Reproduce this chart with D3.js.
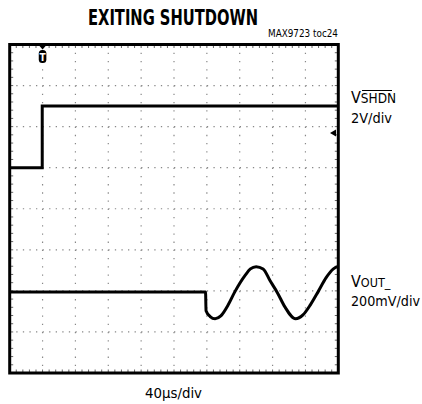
<!DOCTYPE html>
<html>
<head>
<meta charset="utf-8">
<script src="https://cdn.jsdelivr.net/npm/d3@7"></script>
<style>
  body { margin: 0; background: #fff; }
  text { font-family: "Liberation Sans Narrow", "DejaVu Sans Condensed", "Liberation Sans", sans-serif; }
</style>
</head>
<body>
<div id="chart"></div>
<script>
// time axis: 10 div x 40us
const timeTicks = [0, 40, 80, 120, 160, 200, 240, 280, 320, 360, 400];
const divTicks = [0, 1, 2, 3, 4, 5, 6, 7, 8];

// VSHDN trace (us, V) at 2V/div
const shdnT = [0, 39.6, 39.6, 400];
const shdnV = [0, 0, 3.0, 3.0];

// VOUT_ trace (us, mV) at 200mV/div
const voutT = [0, 238.4, 239, 244, 250, 257, 266, 274, 287, 293, 300, 308.5, 317, 326, 335, 348, 357, 366, 376, 385, 394, 400];
const voutV = [0, 0, -92, -120, -131, -117, -63, 0, 83, 112, 123, 112, 54, -5, -73, -131, -112, -63, 5, 68, 112, 124];

const W = 422, H = 404;
const svg = d3.select("#chart")
    .append("svg")
    .attr("width", W)
    .attr("height", H);

const pLeft = 9.7, pRight = 338.3, pTop = 44.5, pBottom = 373;

const x = d3.scaleLinear().domain([0, 400]).range([pLeft, pRight]);
const yDiv = d3.scaleLinear().domain([0, 8]).range([pBottom, pTop]);
const yShdn = d3.scaleLinear().domain([-10, 6]).range([pBottom, pTop]);
const yOut = d3.scaleLinear().domain([-395, 1205]).range([pBottom, pTop]);

// dotted grid
const xStep = (pRight - pLeft) / 50;
const yStep = (pBottom - pTop) / 40;

svg.append("g")
    .selectAll("line")
    .data(timeTicks.slice(1, -1))
    .join("line")
    .attr("x1", d => x(d)).attr("x2", d => x(d))
    .attr("y1", pTop).attr("y2", pBottom)
    .attr("stroke", "#888")
    .attr("stroke-width", 1.2)
    .attr("stroke-dasharray", `1.3,${yStep - 1.3}`);

svg.append("g")
    .selectAll("line")
    .data(divTicks.slice(1, -1))
    .join("line")
    .attr("x1", pLeft).attr("x2", pRight)
    .attr("y1", d => yDiv(d)).attr("y2", d => yDiv(d))
    .attr("stroke", "#888")
    .attr("stroke-width", 1.2)
    .attr("stroke-dasharray", `1.3,${xStep - 1.3}`);

// minor ticks along the frame
const hMinor = d3.range(1, 50).map(i => pLeft + i * xStep);
const vMinor = d3.range(1, 40).map(i => pTop + i * yStep);
const ticks = svg.append("g").attr("stroke", "#666").attr("stroke-width", 1);
ticks.selectAll(".tt").data(hMinor).join("line")
    .attr("x1", d => d).attr("x2", d => d).attr("y1", pTop).attr("y2", pTop + 3.5);
ticks.selectAll(".tb").data(hMinor).join("line")
    .attr("x1", d => d).attr("x2", d => d).attr("y1", pBottom - 3.5).attr("y2", pBottom);
ticks.selectAll(".tl").data(vMinor).join("line")
    .attr("x1", pLeft).attr("x2", pLeft + 3.5).attr("y1", d => d).attr("y2", d => d);
ticks.selectAll(".tr").data(vMinor).join("line")
    .attr("x1", pRight - 3.5).attr("x2", pRight).attr("y1", d => d).attr("y2", d => d);

// traces
const lineShdn = d3.line()
    .x((d, i) => x(shdnT[i]))
    .y(d => yShdn(d));
svg.append("path")
    .datum(shdnV)
    .attr("fill", "none")
    .attr("stroke", "#000")
    .attr("stroke-width", 3)
    .attr("d", lineShdn);

const lineOut = d3.line()
    .x((d, i) => x(voutT[i]))
    .y(d => yOut(d))
    .curve(d3.curveMonotoneX);
svg.append("path")
    .datum(voutV)
    .attr("fill", "none")
    .attr("stroke", "#000")
    .attr("stroke-width", 3)
    .attr("d", lineOut);

// frame
svg.append("rect")
    .attr("x", pLeft).attr("y", pTop)
    .attr("width", pRight - pLeft).attr("height", pBottom - pTop)
    .attr("fill", "none")
    .attr("stroke", "#000")
    .attr("stroke-width", 3);

// trigger marker
const tx = x(40);
svg.append("path")
    .attr("d", `M${tx - 3.5},${pTop + 1} L${tx + 3.5},${pTop + 1} L${tx},${pTop + 5} Z`)
    .attr("fill", "#000");
svg.append("rect")
    .attr("x", tx - 3.8).attr("y", 50)
    .attr("width", 7.6).attr("height", 13)
    .attr("rx", 3.5)
    .attr("fill", "#000");
svg.append("text")
    .attr("x", tx).attr("y", 60.5)
    .attr("text-anchor", "middle")
    .attr("fill", "#fff")
    .style("font-size", "10px")
    .style("font-weight", "bold")
    .text("T");

// level marker at right
svg.append("path")
    .attr("d", `M330,133 L336,129.5 L336,136.5 Z`)
    .attr("fill", "#000");

// title
svg.append("text")
    .attr("transform", "translate(88,25) scale(1,1.15)")
    .attr("textLength", 170)
    .attr("lengthAdjust", "spacingAndGlyphs")
    .style("font-size", "18px")
    .style("font-weight", "bold")
    .text("EXITING SHUTDOWN");

svg.append("text")
    .attr("x", 268).attr("y", 37)
    .attr("textLength", 70)
    .attr("lengthAdjust", "spacingAndGlyphs")
    .style("font-size", "10.5px")
    .text("MAX9723 toc24");

// channel labels
const lab1 = svg.append("text").attr("x", 351).attr("y", 103).style("font-size", "16px");
lab1.append("tspan").text("V");
lab1.append("tspan").style("font-size", "13.5px").text("SHDN");
svg.append("line")
    .attr("x1", 362).attr("x2", 392).attr("y1", 90.5).attr("y2", 90.5)
    .attr("stroke", "#000").attr("stroke-width", 1);
svg.append("text")
    .attr("x", 351).attr("y", 123)
    .attr("textLength", 41)
    .attr("lengthAdjust", "spacingAndGlyphs")
    .style("font-size", "14px")
    .text("2V/div");

const lab2 = svg.append("text").attr("x", 351).attr("y", 287).style("font-size", "16px");
lab2.append("tspan").text("V");
lab2.append("tspan").style("font-size", "12.5px").text("OUT_");
svg.append("text")
    .attr("x", 351).attr("y", 305.5)
    .attr("textLength", 69)
    .attr("lengthAdjust", "spacingAndGlyphs")
    .style("font-size", "14px")
    .text("200mV/div");

svg.append("text")
    .attr("x", 145).attr("y", 397.5)
    .attr("textLength", 57)
    .attr("lengthAdjust", "spacingAndGlyphs")
    .style("font-size", "14px")
    .text("40µs/div");
</script>
</body>
</html>
